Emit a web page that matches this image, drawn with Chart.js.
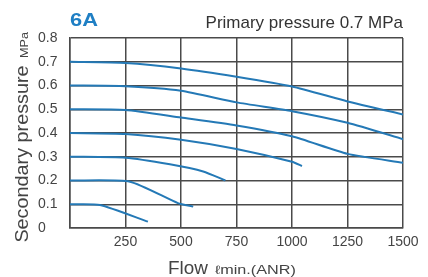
<!DOCTYPE html>
<html><head><meta charset="utf-8">
<script src="https://cdn.jsdelivr.net/npm/chart.js@4/dist/chart.umd.min.js"></script>
<style>html,body{margin:0;padding:0;background:#fff}#wrap{width:428px;height:277px;position:relative}</style>
</head><body><div id="wrap"><canvas id="c" width="428" height="277"></canvas></div>
<script>
// Tick labels
const xTicks = [250, 500, 750, 1000, 1250, 1500];
const yTicks = [0, 0.1, 0.2, 0.3, 0.4, 0.5, 0.6, 0.7, 0.8];
// Curves: flow (l/min ANR) and secondary pressure (MPa)
const flow07 = [0, 250, 500, 750, 1000, 1250, 1500];
const pres07 = [0.70, 0.695, 0.672, 0.637, 0.596, 0.533, 0.478];
const flow06 = [0, 250, 500, 750, 1000, 1250, 1500];
const pres06 = [0.60, 0.597, 0.578, 0.529, 0.492, 0.443, 0.374];
const flow05 = [0, 250, 500, 750, 1000, 1250, 1500];
const pres05 = [0.50, 0.497, 0.465, 0.432, 0.386, 0.312, 0.275];
const flow04 = [0, 250, 500, 750, 1000, 1045];
const pres04 = [0.40, 0.396, 0.372, 0.333, 0.279, 0.261];
const flow03 = [0, 250, 450, 600, 700];
const pres03 = [0.30, 0.296, 0.268, 0.238, 0.20];
const flow02 = [0, 270, 486, 555];
const pres02 = [0.20, 0.195, 0.105, 0.09];
const flow01 = [0, 135, 351];
const pres01 = [0.10, 0.097, 0.027];

const curves = [[flow07,pres07],[flow06,pres06],[flow05,pres05],[flow04,pres04],[flow03,pres03],[flow02,pres02],[flow01,pres01]];
const LINE = '#2479b6';
const GRID = '#4a4a4a';
const TXT = '#444';
const FONT = '"Liberation Sans", Arial, sans-serif';

const datasets = curves.map(([f,p]) => ({
  data: f.map((x,i)=>({x:x, y:p[i]})),
  borderColor: LINE, borderWidth: 2, pointRadius: 0, showLine: true,
  fill: false, tension: 0.2
}));

function stretchText(ctx, text, x, y, font, color, align, sx, rot) {
  ctx.save();
  ctx.font = font; ctx.fillStyle = color; ctx.textBaseline = 'alphabetic';
  ctx.translate(x, y);
  if (rot) ctx.rotate(rot);
  ctx.scale(sx, 1);
  ctx.textAlign = align;
  ctx.fillText(text, 0, 0);
  ctx.restore();
}

const labels = {
  id: 'labels',
  afterDraw(chart) {
    const ctx = chart.ctx;
    stretchText(ctx, '6A', 70, 26, 'bold 19px ' + FONT, '#1f7fc4', 'left', 1.15);
    stretchText(ctx, 'Primary pressure 0.7 MPa', 403, 28, '17px ' + FONT, '#333', 'right', 1.0);
    stretchText(ctx, 'Secondary pressure', 28, 154, '18px ' + FONT, TXT, 'center', 1.1, -Math.PI/2);
    stretchText(ctx, 'MPa', 28, 45, '11px ' + FONT, TXT, 'center', 1.15, -Math.PI/2);
    stretchText(ctx, 'Flow', 168, 274, '18px ' + FONT, TXT, 'left', 1.05);
    stretchText(ctx, 'ℓmin.(ANR)', 215, 274, '12px ' + FONT, TXT, 'left', 1.35);
  }
};

new Chart(document.getElementById('c'), {
  type: 'scatter',
  data: { datasets },
  options: {
    responsive: false, animation: false,
    layout: { padding: { left: 38, right: 25, top: 38, bottom: 0 } },
    plugins: { legend: { display: false }, tooltip: { enabled: false } },
    scales: {
      x: {
        type: 'linear', min: 0, max: 1500,
        afterFit(s) { s.height = 49; },
        afterBuildTicks(s) { s.ticks = [0].concat(xTicks).map(v => ({ value: v })); },
        grid: { color: GRID, lineWidth: 1.5, drawTicks: false },
        border: { color: GRID, width: 1.5 },
        ticks: { padding: 6, color: TXT, font: { family: FONT, size: 14 }, maxRotation: 0,
          callback: v => (xTicks.includes(v) ? String(v) : '') }
      },
      y: {
        type: 'linear', min: 0, max: 0.8,
        afterFit(s) { s.width = 32; },
        afterBuildTicks(s) { s.ticks = yTicks.map(v => ({ value: v })); },
        grid: { color: GRID, lineWidth: 1.5, drawTicks: false },
        border: { color: GRID, width: 1.5 },
        ticks: { crossAlign: 'far', color: TXT, font: { family: FONT, size: 14 },
          callback: v => (Math.round(v * 10) / 10).toString() }
      }
    }
  },
  plugins: [labels]
});
</script></body></html>
